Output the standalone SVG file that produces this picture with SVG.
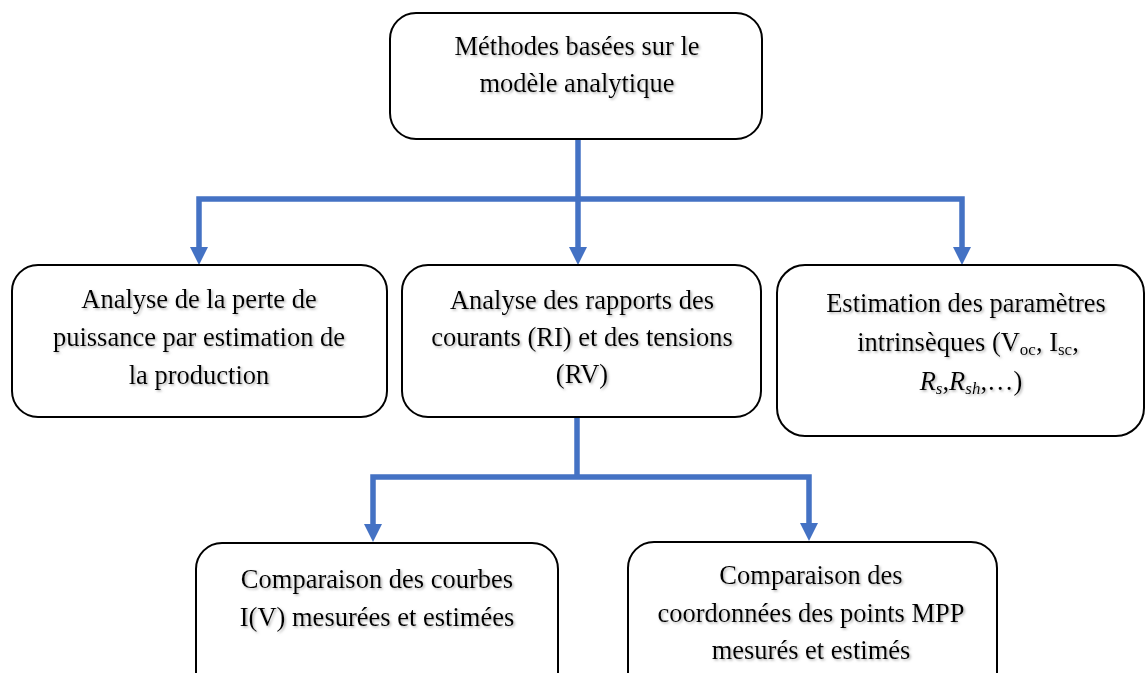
<svg xmlns="http://www.w3.org/2000/svg" width="1145" height="673" viewBox="0 0 1145 673">
  <style>
    .box { fill: #ffffff; stroke: #000000; stroke-width: 2; }
    .lbl { font-family: "Liberation Serif", "Times New Roman", serif; font-size: 26.5px; fill: #000000; text-anchor: middle; filter: url(#shadow); }
    .sub { font-size: 17px; }
    .conn { fill: none; stroke: #4472C4; stroke-width: 5.5; stroke-linejoin: miter; }
  </style>
  <defs>
    <filter id="shadow" x="-5%" y="-20%" width="110%" height="150%">
      <feDropShadow dx="1.5" dy="1.5" stdDeviation="1" flood-color="#808080" flood-opacity="0.6"/>
    </filter>
    <marker id="arrow" markerUnits="userSpaceOnUse" markerWidth="18" markerHeight="18" refX="0" refY="9" orient="auto-start-reverse">
      <path d="M0,0 L18,9 L0,18 Z" fill="#4472C4"/>
    </marker>
  </defs>
  <rect width="1145" height="673" fill="#ffffff"/>

  <g id="connectors">
    <path class="conn" d="M578,139 V199"/>
    <path class="conn" d="M199,247 V199 H962 V247" marker-start="url(#arrow)" marker-end="url(#arrow)"/>
    <path class="conn" d="M578,199 V247" marker-end="url(#arrow)"/>
    <path class="conn" d="M577,417 V477"/>
    <path class="conn" d="M373,524 V477 H809 V523" marker-start="url(#arrow)" marker-end="url(#arrow)"/>
  </g>

  <g id="node-root">
    <rect class="box" x="390" y="13" width="372" height="126" rx="26"/>
    <text class="lbl" x="577" y="55">Méthodes basées sur le</text>
    <text class="lbl" x="577" y="92">modèle analytique</text>
  </g>

  <g id="node-perte">
    <rect class="box" x="12" y="265" width="375" height="152" rx="26"/>
    <text class="lbl" x="199" y="308">Analyse de la perte de</text>
    <text class="lbl" x="199" y="346">puissance par estimation de</text>
    <text class="lbl" x="199" y="384">la production</text>
  </g>

  <g id="node-rapports">
    <rect class="box" x="402" y="265" width="359" height="152" rx="26"/>
    <text class="lbl" x="582" y="309">Analyse des rapports des</text>
    <text class="lbl" x="582" y="346">courants (RI) et des tensions</text>
    <text class="lbl" x="582" y="383">(RV)</text>
  </g>

  <g id="node-parametres">
    <rect class="box" x="777" y="265" width="367" height="171" rx="28"/>
    <text class="lbl" x="966" y="312">Estimation des paramètres</text>
    <text class="lbl" x="968" y="351">intrinsèques (V<tspan class="sub" dy="4">oc</tspan><tspan dy="-4">, I</tspan><tspan class="sub" dy="4">sc</tspan><tspan dy="-4">,</tspan></text>
    <text class="lbl" x="971" y="390"><tspan font-style="italic">R</tspan><tspan class="sub" font-style="italic" dy="4">s</tspan><tspan dy="-4">,</tspan><tspan font-style="italic">R</tspan><tspan class="sub" font-style="italic" dy="4">sh</tspan><tspan dy="-4">,…)</tspan></text>
  </g>

  <g id="node-courbes">
    <rect class="box" x="196" y="543" width="362" height="160" rx="26"/>
    <text class="lbl" x="377" y="588">Comparaison des courbes</text>
    <text class="lbl" x="377" y="626">I(V) mesurées et estimées</text>
  </g>

  <g id="node-mpp">
    <rect class="box" x="628" y="542" width="369" height="160" rx="26"/>
    <text class="lbl" x="811" y="584">Comparaison des</text>
    <text class="lbl" x="811" y="622">coordonnées des points MPP</text>
    <text class="lbl" x="811" y="659">mesurés et estimés</text>
  </g>
</svg>
